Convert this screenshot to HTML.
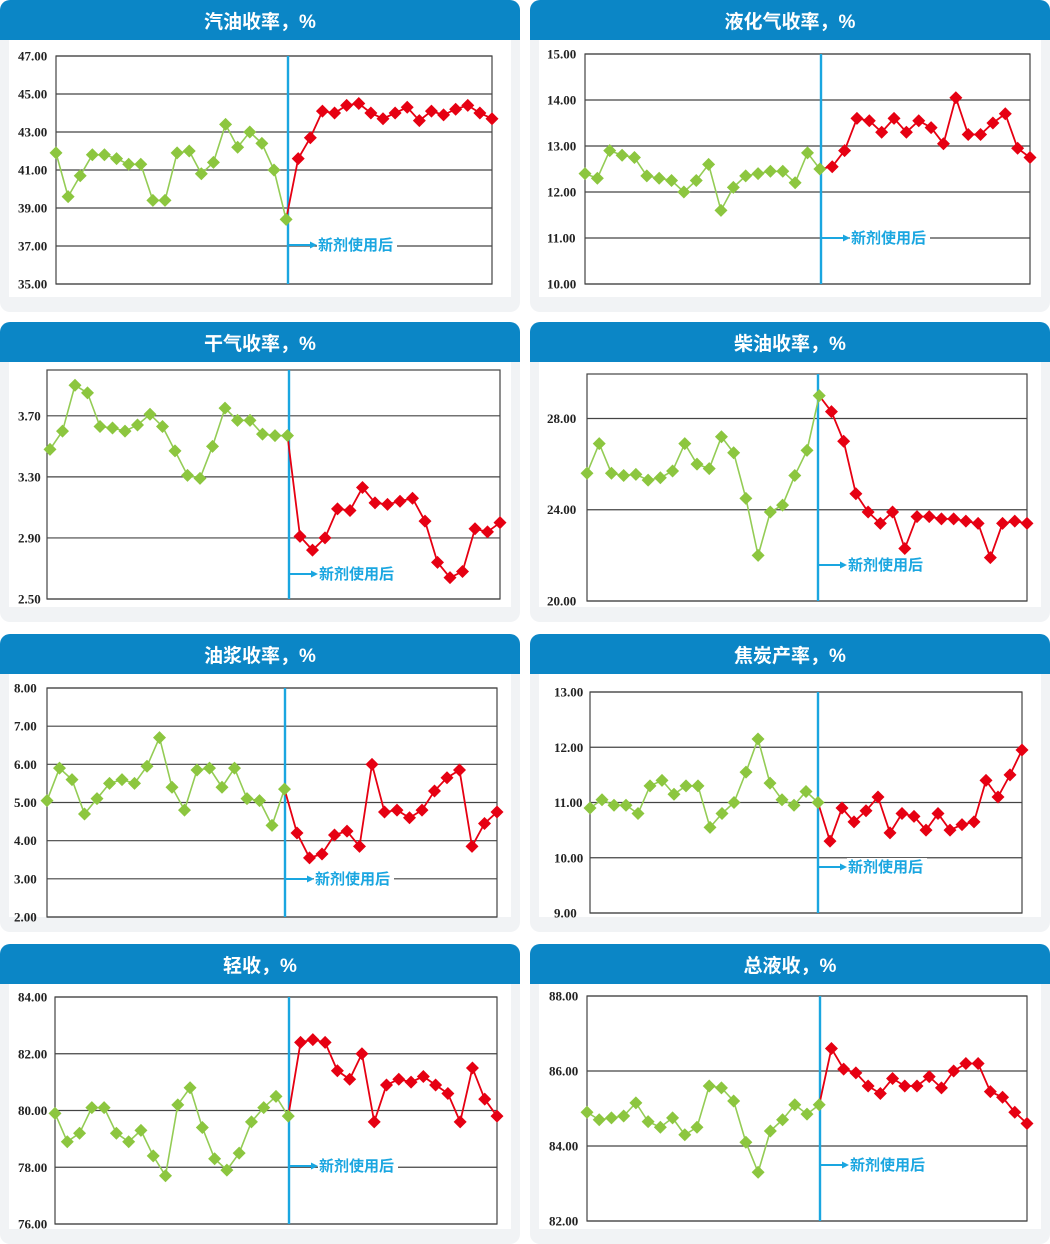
<!DOCTYPE html>
<html><head><meta charset="utf-8"><style>
body{margin:0;background:#fff;width:1050px;height:1244px;overflow:hidden}
svg{display:block}
</style></head><body>
<svg id="s" width="1050" height="1244" xmlns="http://www.w3.org/2000/svg"></svg>
<script>
const C=[
{px:0,top:0,bot:312,t:"汽油收率，%",x0:56,x1:492,y0:56,y1:284,v0:47,v1:35,ticks:[47,45,43,41,39,37,35],lx:18,vl:288,ann:245,
g:[41.9,39.6,40.7,41.8,41.8,41.6,41.3,41.3,39.4,39.4,41.9,42.0,40.8,41.4,43.4,42.2,43.0,42.4,41.0,38.4],
r:[41.6,42.7,44.1,44.0,44.4,44.5,44.0,43.7,44.0,44.3,43.6,44.1,43.9,44.2,44.4,44.0,43.7]},
{px:530,top:0,bot:312,t:"液化气收率，%",x0:585,x1:1030,y0:54,y1:284,v0:15,v1:10,ticks:[15,14,13,12,11,10],lx:547,vl:821,ann:238,
g:[12.4,12.3,12.9,12.8,12.75,12.35,12.3,12.25,12.0,12.25,12.6,11.6,12.1,12.35,12.4,12.45,12.45,12.2,12.85,12.5],
r:[12.55,12.9,13.6,13.55,13.3,13.6,13.3,13.55,13.4,13.05,14.05,13.25,13.25,13.5,13.7,12.95,12.75]},
{px:0,top:322,bot:622,t:"干气收率，%",x0:50,x1:500,y0:370,y1:599,v0:4.0,v1:2.5,box:[47,500],ticks:[3.7,3.3,2.9,2.5],lx:18,vl:289,ann:574,
g:[3.48,3.60,3.90,3.85,3.63,3.62,3.60,3.64,3.71,3.63,3.47,3.31,3.29,3.50,3.75,3.67,3.67,3.58,3.57,3.57],
r:[2.91,2.82,2.90,3.09,3.08,3.23,3.13,3.12,3.14,3.16,3.01,2.74,2.64,2.68,2.96,2.94,3.00]},
{px:530,top:322,bot:622,t:"柴油收率，%",x0:587,x1:1027,y0:374,y1:601,v0:29.95,v1:20,ticks:[28,24,20],lx:547,vl:818,ann:565,
g:[25.6,26.9,25.6,25.5,25.55,25.3,25.4,25.7,26.9,26.0,25.8,27.2,26.5,24.5,22.0,23.9,24.2,25.5,26.6,29.0],
r:[28.3,27.0,24.7,23.9,23.4,23.9,22.3,23.7,23.7,23.6,23.6,23.5,23.4,21.9,23.4,23.5,23.4]},
{px:0,top:634,bot:932,t:"油浆收率，%",x0:47,x1:497,y0:688,y1:917,v0:8,v1:2,ticks:[8,7,6,5,4,3,2],lx:14,vl:285,ann:879,
g:[5.05,5.9,5.6,4.7,5.1,5.5,5.6,5.5,5.95,6.7,5.4,4.8,5.85,5.9,5.4,5.9,5.1,5.05,4.4,5.35],
r:[4.2,3.55,3.65,4.15,4.25,3.85,6.0,4.75,4.8,4.6,4.8,5.3,5.65,5.85,3.85,4.45,4.75]},
{px:530,top:634,bot:932,t:"焦炭产率，%",x0:590,x1:1022,y0:692,y1:913,v0:13,v1:9,ticks:[13,12,11,10,9],lx:554,vl:818,ann:867,
g:[10.9,11.05,10.95,10.95,10.8,11.3,11.4,11.15,11.3,11.3,10.55,10.8,11.0,11.55,12.15,11.35,11.05,10.95,11.2,11.0],
r:[10.3,10.9,10.65,10.85,11.1,10.45,10.8,10.75,10.5,10.8,10.5,10.6,10.65,11.4,11.1,11.5,11.95]},
{px:0,top:944,bot:1244,t:"轻收，%",x0:55,x1:497,y0:997,y1:1224,v0:84,v1:76,ticks:[84,82,80,78,76],lx:18,vl:289,ann:1166,
g:[79.9,78.9,79.2,80.1,80.1,79.2,78.9,79.3,78.4,77.7,80.2,80.8,79.4,78.3,77.9,78.5,79.6,80.1,80.5,79.8],
r:[82.4,82.5,82.4,81.4,81.1,82.0,79.6,80.9,81.1,81.0,81.2,80.9,80.6,79.6,81.5,80.4,79.8]},
{px:530,top:944,bot:1244,t:"总液收，%",x0:587,x1:1027,y0:996,y1:1221,v0:88,v1:82,ticks:[88,86,84,82],lx:549,vl:820,ann:1165,
g:[84.9,84.7,84.75,84.8,85.15,84.65,84.5,84.75,84.3,84.5,85.6,85.55,85.2,84.1,83.3,84.4,84.7,85.1,84.85,85.1],
r:[86.6,86.05,85.95,85.6,85.4,85.8,85.6,85.6,85.85,85.55,86.0,86.2,86.2,85.45,85.3,84.9,84.6]}
];
let h='';
for(const c of C){
 const w=520,px=c.px;
 h+=`<path d="M${px} ${c.top+10}a10 10 0 0 1 10 -10h${w-20}a10 10 0 0 1 10 10V${c.bot-10}a10 10 0 0 1 -10 10H${px+10}a10 10 0 0 1 -10 -10Z" fill="#f1f3f5"/>`;
 h+=`<path d="M${px} ${c.top+10}a10 10 0 0 1 10 -10h${w-20}a10 10 0 0 1 10 10V${c.top+40}H${px}Z" fill="#0b86c6"/>`;
 h+=`<text x="${px+w/2}" y="${c.top+28}" text-anchor="middle" fill="#fff" font-size="19" font-weight="bold" font-family="Liberation Sans,'Noto Sans CJK SC',sans-serif">${c.t}</text>`;
 h+=`<rect x="${px+9}" y="${c.top+40}" width="${w-18}" height="${c.bot-c.top-55}" fill="#fff"/>`;
 const Y=v=>c.y0+(c.v0-v)/(c.v0-c.v1)*(c.y1-c.y0);
 const bx0=c.box?c.box[0]:c.x0, bx1=c.box?c.box[1]:c.x1;
 for(const t of c.ticks){const y=Y(t);
  h+=`<line x1="${bx0}" x2="${bx1}" y1="${y}" y2="${y}" stroke="#444" stroke-width="1.2"/>`;
  h+=`<text x="${c.lx}" y="${y+4.5}" font-size="13" font-weight="bold" fill="#222" font-family="Liberation Serif,serif">${t.toFixed(2)}</text>`;}
 h+=`<rect x="${bx0}" y="${c.y0}" width="${bx1-bx0}" height="${c.y1-c.y0}" fill="none" stroke="#444" stroke-width="1.2"/>`;
 const ay=c.ann;
 h+=`<rect x="${c.vl+29}" y="${ay-9}" width="80" height="18" fill="#fff"/>`;
 h+=`<line x1="${c.vl}" x2="${c.vl+24}" y1="${ay}" y2="${ay}" stroke="#1aa6e0" stroke-width="2"/><path d="M${c.vl+22} ${ay-3.5}L${c.vl+29} ${ay}L${c.vl+22} ${ay+3.5}Z" fill="#1aa6e0"/>`;
 h+=`<text x="${c.vl+30}" y="${ay+5}" font-size="15" font-weight="bold" fill="#1aa6e0" font-family="'Noto Sans CJK SC',sans-serif">新剂使用后</text>`;
 h+=`<line x1="${c.vl}" x2="${c.vl}" y1="${c.y0}" y2="${c.y1}" stroke="#1aa6e0" stroke-width="2.4"/>`;
 const step=(c.x1-c.x0)/36;
 const pts=[...c.g,...c.r].map((v,i)=>[c.x0+i*step,Y(v)]);
 const gp=pts.slice(0,20), rp=pts.slice(19);
 h+=`<polyline points="${gp.map(p=>p.join(',')).join(' ')}" fill="none" stroke="#94cc55" stroke-width="1.6"/>`;
 h+=`<polyline points="${rp.map(p=>p.join(',')).join(' ')}" fill="none" stroke="#e60012" stroke-width="1.8"/>`;
 pts.forEach((p,i)=>{const col=i<20?'#8cc63f':'#e60012';
  h+=`<path d="M${p[0]} ${p[1]-6.5}L${p[0]+6.5} ${p[1]}L${p[0]} ${p[1]+6.5}L${p[0]-6.5} ${p[1]}Z" fill="${col}"/>`;});
}
document.getElementById('s').innerHTML=h;
</script>
</body></html>
